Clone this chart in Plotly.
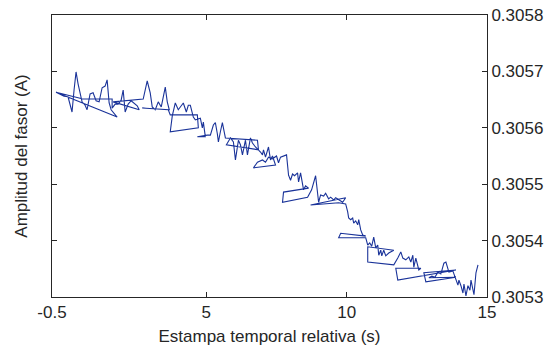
import plotly.graph_objects as go

# Relative timestamp (s) and phasor amplitude (A) in sample order
t_s = [-0.357, -0.214, -0.071, 0.071, 0.143, 0.214, 0.286, 0.357, 0.429, 0.5,
       0.571, 0.679, 0.75, 0.857, 0.964, 1.071, 1.179, 1.286, 1.393, 1.464,
       1.536, 1.607, 1.714, 1.821, -0.357, 0.607, 1.643, 1.643, 1.75, 1.857,
       1.964, 2.036, 2.107, 2.214, 2.321, 2.429, 2.536, 2.607, 1.679, 2.75,
       2.893, 3.0, 3.071, 3.179, 3.286, 3.393, 3.464, 3.536, 3.607, 3.679,
       2.714, 3.643, 3.714, 4.679, 4.714, 3.714, 3.786, 3.893, 4.0, 4.107,
       4.179, 4.286, 4.357, 4.429, 4.536, 4.607, 4.786, 4.857, 4.893, 4.964,
       4.679, 5.036, 5.143, 5.25, 5.321, 5.393, 5.429, 5.5, 5.571, 5.643,
       5.679, 6.821, 6.857, 5.714, 5.857, 5.964, 6.036, 6.143, 6.214, 6.286,
       6.393, 6.464, 6.571, 6.643, 6.75, 6.929, 7.0, 7.036, 7.107, 7.214,
       7.286, 7.357, 7.464, 6.679, 6.821, 7.0, 7.107, 7.214, 7.357, 7.5,
       7.571, 7.643, 7.857, 7.929, 8.0, 8.071, 8.143, 8.25, 8.286, 8.357,
       8.429, 8.464, 8.536, 8.643, 7.75, 7.714, 8.607, 8.75, 8.893, 8.964,
       9.0, 9.071, 9.179, 9.25, 9.357, 9.429, 9.536, 9.607, 9.714, 9.857,
       9.964, 8.714, 9.714, 9.964, 10.036, 10.071, 10.143, 10.214, 10.25, 10.321,
       10.393, 10.429, 10.5, 10.571, 10.679, 9.786, 9.714, 10.679, 10.75, 10.821,
       10.893, 10.964, 11.036, 11.107, 11.143, 11.214, 11.25, 11.321, 11.393, 11.5,
       11.679, 10.75, 10.75, 11.679, 11.821, 11.929, 12.0, 12.107, 12.214, 12.286,
       12.357, 12.393, 12.464, 12.571, 12.643, 11.75, 11.821, 13.893, 12.75, 12.821,
       13.893, 12.929, 13.036, 13.143, 13.25, 13.357, 13.464, 13.536, 13.643, 13.786,
       13.964, 14.0, 14.071, 14.143, 14.179, 14.25, 14.321, 14.393, 14.429, 14.5,
       14.536, 14.607, 14.679]

amp_A = [0.305663, 0.305660, 0.305656, 0.305655, 0.305642, 0.305628, 0.305667, 0.305699, 0.305678, 0.305662,
         0.305646, 0.305640, 0.305632, 0.305660, 0.305662, 0.305648, 0.305646, 0.305671, 0.305674, 0.305685,
         0.305644, 0.305632, 0.305626, 0.305619, 0.305663, 0.305651, 0.305651, 0.305635, 0.305642, 0.305642,
         0.305649, 0.305667, 0.305628, 0.305642, 0.305648, 0.305644, 0.305639, 0.305632, 0.305646, 0.305651,
         0.305683, 0.305662, 0.305637, 0.305632, 0.305646, 0.305637, 0.305653, 0.305672, 0.305646, 0.305632,
         0.305635, 0.305632, 0.305623, 0.305623, 0.305600, 0.305593, 0.305621, 0.305644, 0.305632, 0.305639,
         0.305644, 0.305628, 0.305640, 0.305640, 0.305619, 0.305614, 0.305617, 0.305600, 0.305610, 0.305584,
         0.305584, 0.305587, 0.305587, 0.305605, 0.305609, 0.305589, 0.305575, 0.305593, 0.305609, 0.305591,
         0.305582, 0.305578, 0.305561, 0.305570, 0.305582, 0.305575, 0.305543, 0.305578, 0.305570, 0.305552,
         0.305578, 0.305552, 0.305582, 0.305573, 0.305566, 0.305557, 0.305552, 0.305561, 0.305548, 0.305566,
         0.305543, 0.305550, 0.305534, 0.305529, 0.305539, 0.305543, 0.305539, 0.305548, 0.305545, 0.305550,
         0.305538, 0.305548, 0.305552, 0.305516, 0.305507, 0.305518, 0.305515, 0.305520, 0.305504, 0.305520,
         0.305502, 0.305490, 0.305497, 0.305493, 0.305486, 0.305468, 0.305477, 0.305490, 0.305515, 0.305481,
         0.305468, 0.305481, 0.305479, 0.305484, 0.305474, 0.305477, 0.305472, 0.305476, 0.305472, 0.305468,
         0.305476, 0.305463, 0.305467, 0.305465, 0.305451, 0.305440, 0.305437, 0.305440, 0.305431, 0.305435,
         0.305428, 0.305437, 0.305419, 0.305410, 0.305408, 0.305413, 0.305405, 0.305405, 0.305392, 0.305396,
         0.305390, 0.305406, 0.305387, 0.305392, 0.305374, 0.305383, 0.305373, 0.305383, 0.305373, 0.305378,
         0.305383, 0.305389, 0.305362, 0.305357, 0.305369, 0.305380, 0.305369, 0.305366, 0.305371, 0.305362,
         0.305374, 0.305353, 0.305369, 0.305348, 0.305351, 0.305351, 0.305330, 0.305348, 0.305343, 0.305327,
         0.305335, 0.305334, 0.305337, 0.305335, 0.305344, 0.305341, 0.305360, 0.305362, 0.305344, 0.305346,
         0.305321, 0.305330, 0.305320, 0.305307, 0.305323, 0.305302, 0.305320, 0.305312, 0.305330, 0.305316,
         0.305304, 0.305343, 0.305357]

x_ticks = [-0.5, 5, 10, 15]
x_tick_text = ["-0.5", "5", "10", "15"]
y_ticks = [0.3053, 0.3054, 0.3055, 0.3056, 0.3057, 0.3058]
y_tick_text = ["0.3053", "0.3054", "0.3055", "0.3056", "0.3057", "0.3058"]

axis_color = "#262626"
font_family = "Liberation Sans, Arial, sans-serif"
fs = 17

fig = go.Figure()
fig.add_trace(go.Scatter(
    x=t_s, y=amp_A, mode="lines",
    line=dict(color="#1a3399", width=1.1),
    hoverinfo="skip", showlegend=False,
))

fig.update_layout(
    width=546, height=350,
    margin=dict(l=52, r=59, t=15, b=53),
    paper_bgcolor="white", plot_bgcolor="white",
    font=dict(family=font_family, size=fs, color=axis_color),
    xaxis=dict(
        range=[-0.5, 15], tickvals=x_ticks, ticktext=x_tick_text,
        automargin=False, mirror="ticks",
        showgrid=False, zeroline=False,
        showline=True, linecolor=axis_color, linewidth=1,
        ticks="inside", ticklen=5, tickcolor=axis_color,
        tickfont=dict(size=fs, color=axis_color),
        title=dict(text="Estampa temporal relativa (s)", font=dict(size=fs, color=axis_color), standoff=8),
    ),
    yaxis=dict(
        range=[0.3053, 0.3058], tickvals=y_ticks, ticktext=y_tick_text,
        side="right", mirror="ticks", automargin=False,
        showgrid=False, zeroline=False,
        showline=True, linecolor=axis_color, linewidth=1,
        ticks="inside", ticklen=5, tickcolor=axis_color,
        tickfont=dict(size=fs, color=axis_color),
    ),
    annotations=[dict(
        text="Amplitud del fasor (A)", textangle=-90,
        xref="paper", yref="paper", x=-0.072, y=0.5,
        xanchor="center", yanchor="middle", showarrow=False,
        font=dict(size=fs, color=axis_color),
    )],
)

fig.write_html(
    "out.html",
    config={"displayModeBar": False},
    post_script="document.body.style.margin='0';document.body.style.overflow='hidden';",
)
